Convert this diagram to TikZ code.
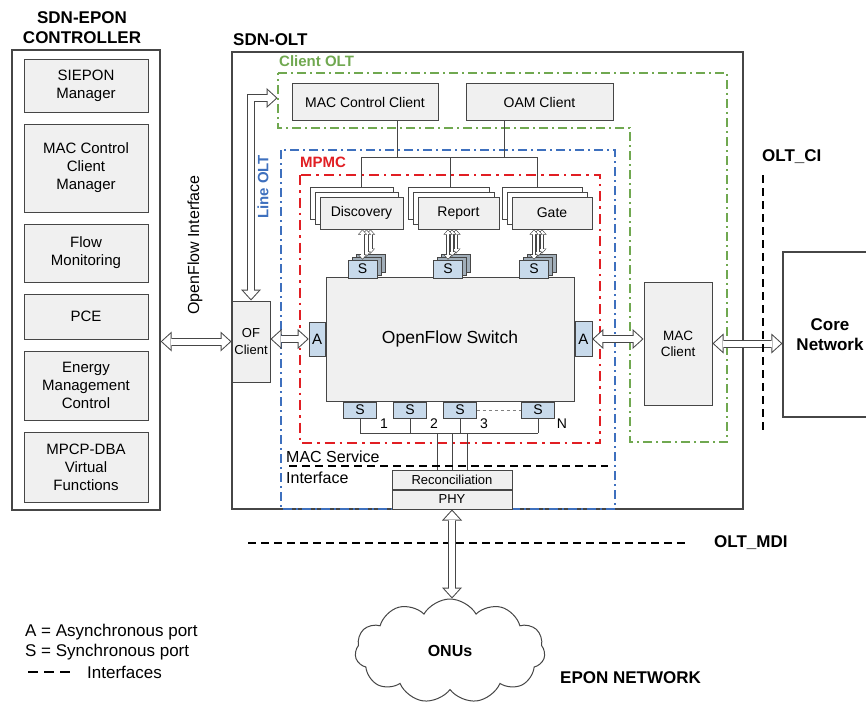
\documentclass[tikz,border=0pt]{standalone}
\usepackage{fontspec}
\setsansfont{Liberation Sans}
\RequirePackage{xcolor}
\definecolor{boxgray}{RGB}{240,240,240}
\definecolor{portblue}{RGB}{200,218,235}
\definecolor{clientgreen}{RGB}{112,168,80}
\definecolor{lineblue}{RGB}{62,112,190}
\definecolor{mpmcred}{RGB}{225,30,35}
\definecolor{edgegray}{RGB}{70,70,70}
\tikzset{every picture/.style={/utils/exec={\sffamily}}}
\usetikzlibrary{calc}
\usetikzlibrary{positioning}
\usetikzlibrary{arrows.meta}
\usetikzlibrary{shadows}
\usetikzlibrary{shapes.symbols}
\newcommand{\fsz}[2]{\fontsize{#1}{#2}\selectfont}
\tikzset{
  block/.style={draw=edgegray, fill=boxgray, line width=1pt, inner sep=0pt, align=center},
  cbox/.style={minimum width=124pt, font=\fsz{15}{18}},
  obox/.style={minimum height=36pt, font=\fsz{14}{16}},
  port/.style={draw=edgegray, fill=portblue, line width=0.8pt, inner sep=0pt, font=\fsz{14}{16}},
  headtxt/.style={font=\bfseries\fsz{17}{20}, align=center, inner sep=0pt},
  lbl/.style={font=\bfseries\fsz{15}{17}, inner sep=0pt},
  legtxt/.style={font=\fsz{17}{19}, inner sep=0pt},
  numtxt/.style={font=\fsz{14}{16}, inner sep=0pt},
  wire/.style={draw=edgegray, line width=1pt},
  stackbox/.style={double copy shadow={shadow xshift=-5pt, shadow yshift=5pt, fill=white, draw=edgegray, line width=1pt}},
  sstack/.style={double copy shadow={shadow xshift=4pt, shadow yshift=3pt, fill=portblue!70!edgegray, draw=edgegray, line width=0.8pt}},
  % outlined double arrow: dark pass, then white pass inside it
  hollow/.style={draw=edgegray, line width=8pt,
    {Triangle[length=11pt,width=20pt,line width=0pt]}-{Triangle[length=11pt,width=20pt,line width=0pt]},
    postaction={draw=white, line width=6pt, shorten <=1.5pt, shorten >=1.5pt,
      {Triangle[length=8.5pt,width=15.5pt,line width=0pt]}-{Triangle[length=8.5pt,width=15.5pt,line width=0pt]}}},
  small hollow/.style={draw=edgegray, line width=4pt,
    {Triangle[length=5pt,width=9pt,line width=0pt]}-{Triangle[length=5pt,width=9pt,line width=0pt]},
    postaction={draw=white, line width=2.8pt, shorten <=0.9pt, shorten >=0.9pt,
      {Triangle[length=3.5pt,width=6.3pt,line width=0pt]}-{Triangle[length=3.5pt,width=6.3pt,line width=0pt]}}},
  clientbox/.style={draw=clientgreen, line width=1.6pt, dash pattern=on 9pt off 4pt on 2pt off 4pt},
  linebox/.style={draw=lineblue, line width=1.6pt, dash pattern=on 9pt off 4pt on 2pt off 4pt},
  mpmcbox/.style={draw=mpmcred, line width=2.4pt, dash pattern=on 10pt off 5pt on 2.5pt off 5pt},
  iface/.style={draw=black, line width=2.2pt, dash pattern=on 8pt off 5pt}
}

\begin{document}
\begin{tikzpicture}[x=1pt, y=-1pt]
  \useasboundingbox (0,0) rectangle (866,706);
  \clip (0,0) rectangle (866,706);

  % controller
  \node [headtxt] (ctrltitle) at (82,28) {SDN-EPON\\CONTROLLER};
  \node [draw=edgegray, line width=1.4pt, minimum width=148pt, minimum height=460pt] (ctrl) at (86,280) {};
  \node [block, cbox, minimum height=52pt] (siepon) at (86,86) {SIEPON\\Manager};
  \node [block, cbox, minimum height=88pt, below=11pt of siepon] (mccm) {MAC Control\\Client\\Manager};
  \node [block, cbox, minimum height=58pt, below=11pt of mccm] (flowmon) {Flow\\Monitoring};
  \node [block, cbox, minimum height=45pt, below=11pt of flowmon] (pce) {PCE};
  \node [block, cbox, minimum height=69pt, below=11pt of pce] (energy) {Energy\\Management\\Control};
  \node [block, cbox, minimum height=70pt, below=11pt of energy] (dba) {MPCP-DBA\\Virtual\\Functions};

  \node [rotate=90, font=\fsz{16}{18}] (ofif) at (195,245) {OpenFlow Interface};

  % OLT and its regions
  \node [headtxt, anchor=west] (olttitle) at (233,40) {SDN-OLT};
  \node [draw=edgegray, line width=1.2pt, minimum width=511pt, minimum height=457pt] (olt) at (487.5,280.5) {};

  \draw [clientbox] (278,73) -- (727,73) -- (727,442) -- (630,442) -- (630,128) -- (278,128) -- cycle;
  \node [lbl, text=clientgreen, anchor=west] (clientlbl) at (279,61) {Client OLT};
  \draw [linebox] (281,150) rectangle (615,509);
  \node [lbl, text=lineblue, rotate=90] (linelbl) at (263,187) {Line OLT};
  \draw [mpmcbox] (300,175) rectangle (600,443);
  \node [lbl, text=mpmcred, anchor=west] (mpmclbl) at (300,162) {MPMC};

  \node [block, obox, minimum width=146pt] (mcc) at (365,102) {MAC Control Client};
  \node [block, obox, minimum width=147pt] (oam) at (539.5,102) {OAM Client};

  \node [block, obox, stackbox, minimum width=83pt, minimum height=32pt] (disc) at (361.5,213) {Discovery};
  \node [block, obox, stackbox, minimum width=81pt, minimum height=32pt] (report) at (458.5,213) {Report};
  \node [block, obox, stackbox, minimum width=80pt, minimum height=32pt] (gate) at (552,213) {Gate};

  \coordinate (busl) at (362,157);
  \coordinate (busr) at (537,157);
  \draw [wire] (busl) -- (busr);
  \draw [wire] ([xshift=32pt]mcc.south) -- ([xshift=32pt]mcc.south |- busl);
  \draw [wire] ([xshift=-35pt]oam.south) -- ([xshift=-35pt]oam.south |- busl);
  \foreach \n/\dx in {disc/0, report/-8, gate/-15}
    \draw [wire] ([xshift=\dx pt, yshift=10pt]\n.north) -- ([xshift=\dx pt]\n.north |- busl);

  \node [block, minimum width=248pt, minimum height=124pt, font=\fsz{17.5}{20}] (ofs) at (450,339) {OpenFlow Switch};

  \foreach \s/\x in {sdisc/362.5, sreport/448, sgate/534}
    \node [port, sstack, minimum width=29pt, minimum height=18pt] (\s) at (\x,269) {S};
  \foreach \n/\s in {disc/sdisc, report/sreport, gate/sgate}
    \foreach \k in {2,1,0}
      \draw [small hollow] ([xshift={4pt*\k}]\s.north |- \n.south) -- ([xshift={4pt*\k}, yshift={3pt*\k}]\s.north);

  \node [port, font=\fsz{15}{17}, minimum width=16pt, minimum height=34pt, left=0pt of ofs] (aleft) {A};
  \node [port, font=\fsz{15}{17}, minimum width=17pt, minimum height=35pt, right=0pt of ofs] (aright) {A};

  % synchronous ports towards the PHY
  \foreach \i/\x in {1/360, 2/410, 3/460, n/538}
    \node [port, minimum width=33pt, minimum height=16pt] (sb\i) at (\x,410) {S};
  \draw [gray, dashed, line width=0.8pt] (sb3) -- (sbn);
  \coordinate (busb) at (450,433);
  \foreach \i in {1,2,3,n}
    \draw [wire] (sb\i.south) -- (sb\i.south |- busb);
  \draw [wire] (sb1.south |- busb) -- (sbn.south |- busb);
  \foreach \i/\t in {1/1, 2/2, 3/3, n/N}
    \node [numtxt] (num\i) at ([xshift=24pt, yshift=-5pt]sb\i.south) {\t};

  \node [block, minimum width=120pt, minimum height=19pt, font=\fsz{13}{15}] (recon) at (452,479.5) {Reconciliation};
  \node [block, minimum width=120pt, minimum height=19pt, font=\fsz{13}{15}, below=0pt of recon] (phy) {PHY};
  \foreach \dx in {-15,0,15}
    \draw [wire] ([xshift=\dx pt]recon.north) -- ([xshift=\dx pt]recon.north |- busb);

  \node [font=\fsz{16}{21}, align=left, anchor=west, inner sep=0pt] (msi) at (286,467) {MAC Service\\Interface};
  \coordinate (msil) at (289,466);
  \coordinate (msir) at (608,466);
  \draw [iface] (msil) -- (msir);

  \node [block, minimum width=38pt, minimum height=81pt, font=\fsz{13}{17}] (ofc) at (251,341.5) {OF\\Client};
  \node [block, minimum width=68pt, minimum height=123pt, font=\fsz{13.5}{16}] (mcl) at (678,343.5) {MAC\\Client};
  \node [headtxt, draw=edgegray, line width=1.2pt, minimum width=94pt, minimum height=165pt] (core) at (830,334.5) {Core\\Network};

  \draw [hollow] (ofc.west -| ctrl.east) -- (ofc.west);
  \draw [hollow] (aleft.west -| ofc.east) -- (aleft.west);
  \draw [hollow] (aright.east) -- (aright.east -| mcl.west);
  \draw [hollow] (mcl.east) -- (mcl.east -| core.west);
  \draw [hollow] (ofc.north) |- ([xshift=-14pt, yshift=4pt]mcc.west);

  % interfaces
  \node [headtxt, anchor=west] (oltci) at (762,157) {OLT\_CI};
  \coordinate (citop) at (763,175);
  \coordinate (cibot) at (763,433);
  \draw [iface] (citop) -- (cibot);
  \coordinate (mdil) at (248,543);
  \coordinate (mdir) at (688,543);
  \draw [iface] (mdil) -- (mdir);
  \node [headtxt, anchor=west] (oltmdi) at (714,543) {OLT\_MDI};

  \node [cloud, draw=edgegray, line width=1pt, fill=white, cloud puffs=11, cloud puff arc=120, aspect=1.8,
    minimum width=190pt, minimum height=104pt, font=\bfseries\fsz{16}{18}] (onus) at (450,651) {ONUs};
  \draw [hollow] (phy.south) -- (phy.south |- onus.north);
  \node [headtxt, anchor=west] (epon) at (560,678) {EPON NETWORK};

  % legend
  \node [legtxt, anchor=west] (lega) at (25,632) {A = Asynchronous port};
  \node [legtxt, anchor=west] (legs) at (25,652) {S = Synchronous port};
  \coordinate (legl) at (28,672);
  \coordinate (legr) at (70,672);
  \draw [iface, dash pattern=on 10pt off 6pt] (legl) -- (legr);
  \node [legtxt, anchor=west] (legi) at (87,672) {Interfaces};
\end{tikzpicture}
\end{document}
